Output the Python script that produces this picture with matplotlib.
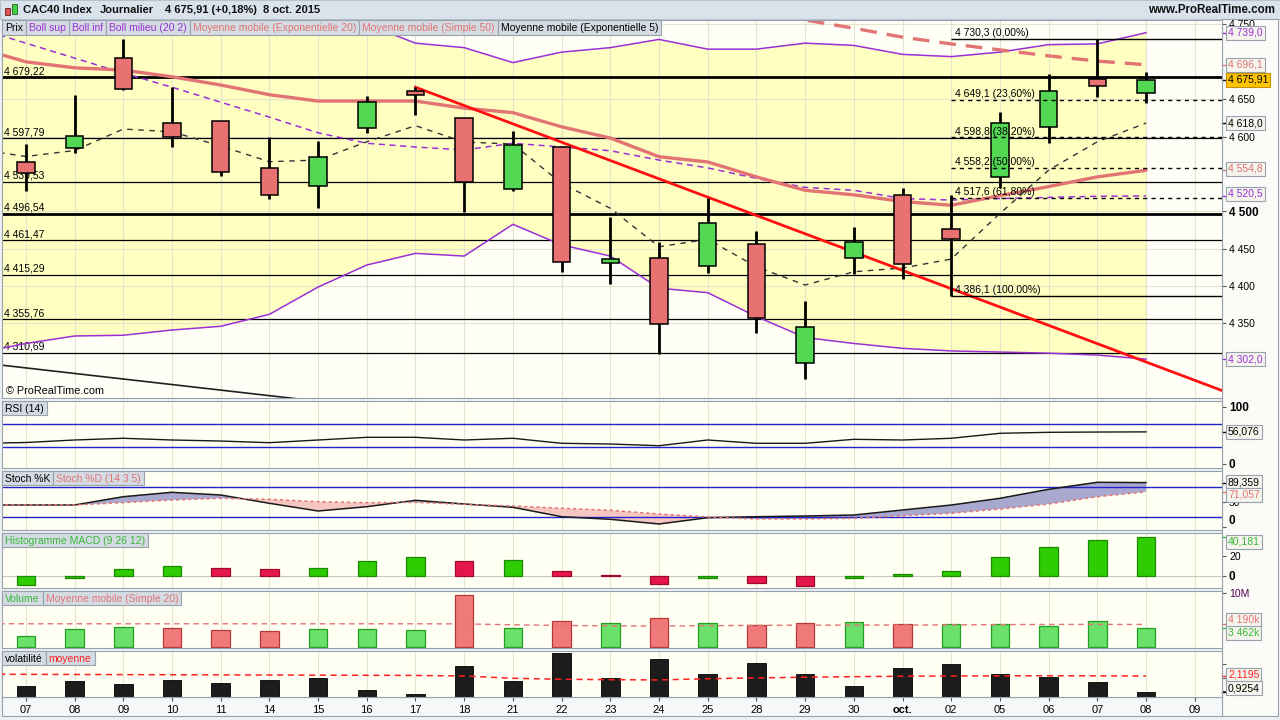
import matplotlib
matplotlib.use("Agg")
import matplotlib.pyplot as plt
import matplotlib as mpl
import matplotlib.transforms as mtransforms
from matplotlib.patches import Rectangle
import numpy as np

mpl.rcParams.update({
    "font.family": ["Liberation Sans", "DejaVu Sans"],
    "font.size": 7.5,
    "axes.linewidth": 0.8,
})

# ---------------- data (daily, 7 Sep -> 8 Oct 2015) ----------------
dates = ["07", "08", "09", "10", "11", "14", "15", "16", "17", "18", "21", "22", "23",
         "24", "25", "28", "29", "30", "oct.", "02", "05", "06", "07", "08", "09"]

opens = [4566.3, 4584.2, 4704.7, 4617.7, 4620.3, 4557.4, 4533.3, 4611.0, 4660.9, 4624.4,
         4529.3, 4585.5, 4430.7, 4437.0, 4426.6, 4456.1, 4296.4, 4437.0, 4521.3, 4476.2,
         4545.4, 4612.3, 4677.4, 4658.2]
highs = [4590.0, 4655.2, 4730.5, 4666.7, 4621.0, 4598.9, 4594.0, 4654.2, 4665.9, 4625.0,
         4607.4, 4586.0, 4492.2, 4458.4, 4517.3, 4473.5, 4379.8, 4478.8, 4530.7, 4521.7,
         4632.8, 4683.3, 4730.3, 4686.0]
lows = [4527.4, 4577.5, 4662.3, 4586.3, 4547.5, 4516.3, 4504.7, 4605.1, 4629.2, 4498.5,
        4527.0, 4418.2, 4402.9, 4308.4, 4416.9, 4337.4, 4275.4, 4415.5, 4409.2, 4386.1,
        4530.7, 4590.9, 4653.3, 4644.4]
closes = [4551.5, 4600.3, 4664.0, 4598.9, 4552.1, 4521.3, 4572.6, 4646.6, 4655.2, 4538.7,
          4588.6, 4431.6, 4435.6, 4348.6, 4483.8, 4357.4, 4344.6, 4458.4, 4429.3, 4462.4,
          4617.7, 4660.9, 4667.2, 4675.91]
prev_close = 4523.0

# overlay series start one day earlier (4 Sep) so they reach the left edge
bb_upper = [5170, 5128, 5077, 5036, 4991, 4946, 4890, 4812, 4750, 4725, 4719, 4699, 4713,
            4719, 4730, 4717, 4717, 4725, 4722, 4710, 4707, 4713, 4723, 4724, 4739.0]
bb_mid = [4745, 4725, 4705, 4685, 4666, 4646, 4626, 4605, 4591, 4586, 4582, 4591, 4586,
          4581, 4568.5, 4558, 4544, 4532, 4528, 4517, 4515, 4517, 4518.5, 4520, 4520.5]
bb_lower = [4310, 4323, 4333, 4334, 4341, 4346, 4362, 4398.5, 4428, 4443.6, 4440, 4482.5,
            4455, 4440, 4397, 4391, 4359, 4331, 4323, 4316.5, 4313, 4311.5, 4310, 4307.5, 4302.0]
ema20 = [4719, 4700, 4692, 4689, 4680, 4669, 4656, 4647.5, 4647.5, 4647.5, 4638, 4632, 4613,
         4598, 4573, 4566, 4546, 4528, 4522, 4513, 4508, 4521, 4533, 4546, 4554.8]
ema5 = [4583, 4573.3, 4581.3, 4610, 4606.4, 4587.3, 4566.3, 4568.5, 4593, 4614.5, 4592.6,
        4590, 4537.3, 4504, 4452.5, 4462.4, 4425.7, 4401.2, 4419, 4424, 4436, 4497, 4555,
        4593, 4618.0]
sma50_start = 13
sma50 = [4788, 4777, 4766, 4756, 4745, 4733, 4724, 4716, 4708, 4701, 4696.1]

levels = [4679.22, 4597.79, 4539.53, 4496.54, 4461.47, 4415.29, 4355.76, 4310.69]
thick_levels = [4679.22, 4496.54]

fib_start = 19
fib_levels = [4730.3, 4649.1, 4598.8, 4558.2, 4517.6, 4386.1]
fib_pcts = ["0,00%", "23,60%", "38,20%", "50,00%", "61,80%", "100,00%"]

red_trend_x = [8, 24.6]
red_trend_y = [4666, 4259]
black_trend_x = [-0.5, 6.5]
black_trend_y = [4294, 4242]

rsi = [36, 37.5, 41.9, 44.9, 41.9, 40.1, 37.2, 41.9, 46.6, 46.6, 41.9, 44.9, 36.1, 34.9,
       31.9, 41.9, 36.1, 36.1, 43.1, 41.9, 44.9, 53.6, 55.3, 55.8, 56.076]
stoch_k = [44.6, 44.6, 44.6, 61.2, 70, 64.6, 48, 32.6, 41.2, 54, 46.6, 40, 21.2, 16, 6.6,
           19.2, 21.2, 22.6, 24.6, 34.6, 44.6, 58, 76, 90, 89.359]
stoch_d = [44.6, 44.6, 44.6, 49.4, 54.6, 58, 56, 51.2, 49.2, 50, 46, 42.6, 38, 34, 26.6,
           20.6, 16.6, 16.6, 18, 23.2, 28, 36.6, 46.6, 61.2, 71.057]

macd_prev = -12.0
macd_hist = [-9.4, -2.4, 7.3, 9.4, 8.3, 6.6, 8.3, 15.6, 19.7, 15.6, 15.8, 5.2, 0.4, -8.7,
             -3.1, -7.3, -10.8, -3.1, 1.4, 5.2, 19.8, 30.2, 36.5, 40.181]

volume_m = [2.04, 3.28, 3.65, 3.46, 3.09, 2.9, 3.28, 3.28, 3.09, 9.57, 3.46, 4.76, 4.39,
            5.31, 4.39, 4.07, 4.39, 4.57, 4.2, 4.2, 4.2, 3.83, 4.76, 3.462]
volume_sma20 = [4.32, 4.31, 4.31, 4.31, 4.31, 4.31, 4.31, 4.31, 4.31, 4.31, 4.29, 4.12, 4.0,
                3.93, 3.89, 3.95, 4.02, 4.05, 4.07, 4.07, 4.1, 4.15, 4.19, 4.19, 4.19]

volat = [1.385, 1.75, 1.53, 1.82, 1.6, 1.82, 1.97, 1.09, 0.8, 2.85, 1.75, 3.8, 1.97, 3.36,
         2.26, 3.07, 2.26, 1.385, 2.7, 3.0, 2.26, 2.04, 1.68, 0.9254]
volat_avg = [2.25, 2.24, 2.23, 2.22, 2.21, 2.2, 2.19, 2.18, 2.17, 2.16, 2.12, 1.95, 1.88,
             1.85, 1.83, 1.92, 1.98, 2.03, 2.07, 2.1, 2.12, 2.13, 2.14, 2.13, 2.1195]

# ---------------- style ----------------
W, H = 1280, 720
X0, X1 = -0.49, 24.56
PANEL_BG = "#FFFFF3"
BAND = "#FFFFC2"
GRID = "#E4E4CC"
SPINE = "#98A2AC"
BOX_EC = "#98A2AC"
PURPLE = "#9A2FD6"
SALMON = "#E27474"
GREEN_TXT = "#38B838"
BLUE = "#2222CC"

fig = plt.figure(figsize=(12.8, 7.2), dpi=100, facecolor="#EEF1F4")
renderer = fig.canvas.get_renderer()


def fr(v, d):
    return f"{v:,.{d}f}".replace(",", " ").replace(".", ",")


def panel(top, bottom, bg=PANEL_BG):
    ax = fig.add_axes([2 / W, 1 - bottom / H, 1220 / W, (bottom - top) / H])
    ax.set_facecolor(bg)
    for s in ax.spines.values():
        s.set_color(SPINE)
    ax.set_xlim(X0, X1)
    ax.set_xticks(np.arange(len(dates)))
    ax.tick_params(axis="x", length=0, labelbottom=False)
    ax.yaxis.tick_right()
    ax.tick_params(axis="y", length=3, width=0.8, color="#555555", pad=2, labelsize=7.5)
    ax.grid(axis="x", color=GRID, lw=0.8)
    ax.set_axisbelow(True)
    return ax


def side_label(ax, y, text, color, fc="#F4F4EC", ec=BOX_EC, dy=0):
    # dy: shift of the box in pixels (downwards positive), tick mark stays on the value
    tr = mtransforms.blended_transform_factory(ax.transAxes, ax.transData)
    ax.plot([1.0, 1.0 + 4 / 1220], [y, y], transform=tr, color=color, lw=1, clip_on=False)
    ax.annotate(text, xy=(1.0, y), xycoords=tr, xytext=(6 * 0.72, -dy * 0.72),
                textcoords="offset points", color=color, fontsize=7.5,
                va="center", ha="left", annotation_clip=False, zorder=6,
                bbox=dict(boxstyle="square,pad=0.18", fc=fc, ec=ec, lw=0.8))


def right_ticks(ax, ticks, labels, bold=()):
    ax.set_yticks(ticks, labels)
    for lbl in ax.get_yticklabels():
        if lbl.get_text() in bold:
            lbl.set_fontweight("bold")
            lbl.set_fontsize(8.5)


def legend_row(top, items, h=14):
    x = 2
    for label, color in items:
        t = fig.text((x + 3) / W, 1 - (top + h / 2 + 0.5) / H, label, color=color,
                     va="center", ha="left", fontsize=7.5, zorder=6)
        w = t.get_window_extent(renderer).width + 6
        fig.add_artist(Rectangle((x / W, 1 - (top + h) / H), w / W, h / H,
                                 transform=fig.transFigure, fc="#D4DBE3", ec=BOX_EC,
                                 lw=0.8, zorder=5))
        x += w


xl = np.arange(-1, 24)
xc = np.arange(24)

# background strips (header, right axis, date axis)
fig.add_artist(Rectangle((0, 1 - 19 / H), 1, 19 / H, transform=fig.transFigure,
                         fc="#DAE3EC", ec="#B8C2CC", lw=0.8, zorder=-2))
fig.add_artist(Rectangle((1222 / W, 1 - 716 / H), 56 / W, 697 / H, transform=fig.transFigure,
                         fc="#FBFBF8", ec=SPINE, lw=0.8, zorder=-1))
fig.add_artist(Rectangle((2 / W, 1 - 716 / H), 1220 / W, 19 / H, transform=fig.transFigure,
                         fc="#F6F7F8", ec=SPINE, lw=0.8, zorder=-1))

# header
fig.add_artist(Rectangle((5 / W, 1 - 15 / H), 5 / W, 7 / H, transform=fig.transFigure,
                         fc="#E05050", ec="#602020", lw=0.6, zorder=6))
fig.add_artist(Rectangle((12 / W, 1 - 14 / H), 5 / W, 10 / H, transform=fig.transFigure,
                         fc="#40D040", ec="#206020", lw=0.6, zorder=6))
fig.text(23 / W, 1 - 10 / H, "CAC40 Index", fontsize=8, fontweight="bold", va="center", color="#101010")
fig.text(100 / W, 1 - 10 / H, "Journalier", fontsize=8, fontweight="bold", va="center", color="#101010")
fig.text(165 / W, 1 - 10 / H, "4 675,91 (+0,18%)", fontsize=8, fontweight="bold", va="center", color="#101010")
fig.text(263 / W, 1 - 10 / H, "8 oct. 2015", fontsize=8, fontweight="bold", va="center", color="#101010")
fig.text(1275 / W, 1 - 10 / H, "www.ProRealTime.com", fontsize=8.3, fontweight="bold",
         va="center", ha="right", color="#101010")

# ---------------- main price panel ----------------
ax = panel(20, 398, bg="#FFFFF8")
ax.set_ylim(4250, 4756)
ax.grid(axis="y", color=GRID, lw=0.8)
ax.fill_between(xl, bb_lower, bb_upper, color=BAND, lw=0, zorder=0.3)

for lvl in levels:
    ax.axhline(lvl, color="black", lw=2.0 if lvl in thick_levels else 0.9, zorder=1)
    ax.text(X0 + 0.04, lvl + 1.2, fr(lvl, 2), fontsize=7.5, va="bottom", ha="left", zorder=1.5)

ax.plot(xl, bb_upper, color=PURPLE, lw=1.1, zorder=2)
ax.plot(xl, bb_lower, color=PURPLE, lw=1.1, zorder=2)
ax.plot(xl, bb_mid, color=PURPLE, lw=1.1, ls=(0, (4, 3)), zorder=2)
ax.plot(xl, ema20, color=SALMON, lw=2.4, zorder=2.1, solid_capstyle="round")
ax.plot(np.arange(sma50_start, 24), sma50, color=SALMON, lw=2.4, ls=(0, (5, 3)), zorder=2.1)
ax.plot(xl, ema5, color="#333333", lw=1.0, ls=(0, (4, 4)), zorder=2.2)
ax.plot(red_trend_x, red_trend_y, color="#FF1010", lw=2.0, zorder=2.5)
ax.plot(black_trend_x, black_trend_y, color="#202020", lw=1.2, zorder=2.5)

o = np.array(opens)
c = np.array(closes)
up = c >= o
ax.vlines(xc, lows, highs, color="black", lw=2.0, zorder=3)
ax.bar(xc, np.maximum(np.abs(c - o), 1.0), bottom=np.minimum(o, c), width=0.36,
       color=np.where(up, "#52D852", "#E87272"), edgecolor="black", lw=1.1, zorder=3.2)

for lvl, pct in zip(fib_levels, fib_pcts):
    solid = pct in ("0,00%", "100,00%")
    ax.hlines(lvl, fib_start, X1, color="black", lw=1.0,
              ls="-" if solid else (0, (3, 3)), zorder=3.5)
    ax.text(fib_start + 0.08, lvl + 1.2, f"{fr(lvl, 1)} ({pct})", fontsize=7.5,
            va="bottom", ha="left", zorder=4)

ax.text(0.003, 0.019, "\u00a9 ProRealTime.com", transform=ax.transAxes, fontsize=7.8,
        va="center", ha="left", zorder=4)

price_ticks = [4350, 4400, 4450, 4500, 4600, 4650, 4750]
right_ticks(ax, price_ticks, [fr(t, 0) for t in price_ticks], bold=("4 500",))
side_label(ax, bb_upper[-1], fr(bb_upper[-1], 1), PURPLE)
side_label(ax, sma50[-1], fr(sma50[-1], 1), SALMON)
side_label(ax, closes[-1], fr(closes[-1], 2), "black", fc="#FFC400", ec="#C89000")
side_label(ax, ema5[-1], fr(ema5[-1], 1), "black")
side_label(ax, ema20[-1], fr(ema20[-1], 1), SALMON, dy=-1.5)
side_label(ax, bb_mid[-1], fr(bb_mid[-1], 1), PURPLE, dy=-2)
side_label(ax, bb_lower[-1], fr(bb_lower[-1], 1), PURPLE)

legend_row(20, [("Prix", "black"), ("Boll sup", PURPLE), ("Boll inf", PURPLE),
                ("Boll milieu (20 2)", PURPLE),
                ("Moyenne mobile (Exponentielle 20)", SALMON),
                ("Moyenne mobile (Simple 50)", SALMON),
                ("Moyenne mobile (Exponentielle 5)", "black")], h=15)

# ---------------- RSI ----------------
ax_r = panel(401, 468)
ax_r.set_ylim(-7, 110)
ax_r.axhline(70, color=BLUE, lw=1, zorder=1)
ax_r.axhline(30, color=BLUE, lw=1, zorder=1)
ax_r.plot(xl, rsi, color="#1A1A1A", lw=1.0, zorder=2)
right_ticks(ax_r, [0, 100], ["0", "100"], bold=("0", "100"))
side_label(ax_r, rsi[-1], fr(rsi[-1], 3), "black")
legend_row(401, [("RSI (14)", "black")])

# ---------------- Stochastic ----------------
ax_s = panel(471, 530)
ax_s.set_ylim(-5.4, 112.6)
k = np.array(stoch_k)
d = np.array(stoch_d)
ax_s.fill_between(xl, k, d, where=k >= d, interpolate=True, color="#A9A9CF", lw=0, zorder=1)
ax_s.fill_between(xl, k, d, where=k < d, interpolate=True, color="#F5C6C2", lw=0, zorder=1)
ax_s.axhline(80, color=BLUE, lw=1, zorder=1.5)
ax_s.axhline(20, color=BLUE, lw=1, zorder=1.5)
ax_s.plot(xl, k, color="#1A1A1A", lw=1.1, zorder=2)
ax_s.plot(xl, d, color=SALMON, lw=1.1, ls=(0, (2, 2)), zorder=2)
right_ticks(ax_s, [0, 50], ["0", "50"], bold=("0",))
for lbl in ax_s.get_yticklabels():
    if lbl.get_text() == "0":
        lbl.set_verticalalignment("bottom")
side_label(ax_s, stoch_k[-1], fr(stoch_k[-1], 3), "black", dy=-0.5)
side_label(ax_s, stoch_d[-1], fr(stoch_d[-1], 3), SALMON, dy=3)
legend_row(471, [("Stoch %K", "black"), ("Stoch %D (14 3 5)", SALMON)])

# ---------------- MACD histogram ----------------
ax_m = panel(533, 588)
ax_m.set_ylim(-13, 44.3)
ax_m.axhline(0, color="#C8C8C0", lw=0.8, zorder=0.6)
mh = np.array(macd_hist)
rising = np.diff(np.concatenate([[macd_prev], mh])) > 0
ax_m.bar(xc, mh, width=0.38, color=np.where(rising, "#2ECC00", "#E5174A"),
         edgecolor=np.where(rising, "#1A8A00", "#A00A30"), lw=0.9, zorder=2)
right_ticks(ax_m, [0, 20], ["0", "20"], bold=("0",))
side_label(ax_m, macd_hist[-1], fr(macd_hist[-1], 3), GREEN_TXT, dy=5)
legend_row(533, [("Histogramme MACD (9 26 12)", GREEN_TXT)])

# ---------------- Volume ----------------
ax_v = panel(591, 648)
ax_v.set_ylim(-0.19, 10.4)
vol_up = np.diff(np.concatenate([[prev_close], c])) > 0
ax_v.bar(xc, volume_m, width=0.38, color=np.where(vol_up, "#6BE06B", "#F07A7A"),
         edgecolor=np.where(vol_up, "#22A022", "#B83838"), lw=0.9, zorder=2)
ax_v.plot(xl, volume_sma20, color=SALMON, lw=1.0, ls=(0, (4, 3)), zorder=3)
right_ticks(ax_v, [10], ["10M"])
ax_v.get_yticklabels()[0].set_color("#500050")
side_label(ax_v, volume_sma20[-1], "4 190k", SALMON, dy=-4.5)
side_label(ax_v, volume_m[-1], "3 462k", GREEN_TXT, dy=5)
legend_row(591, [("Volume", GREEN_TXT), ("Moyenne mobile (Simple 20)", SALMON)])

# ---------------- Volatility ----------------
ax_t = panel(651, 697)
ax_t.set_ylim(0.58, 3.95)
ax_t.bar(xc, volat, width=0.38, color="#1C1C1C", edgecolor="black", lw=0.6, zorder=2)
ax_t.plot(xl, volat_avg, color="#FF2020", lw=1.1, ls=(0, (4, 3)), zorder=3)
right_ticks(ax_t, [1, 2, 3], ["", "", ""])
side_label(ax_t, volat_avg[-1], fr(volat_avg[-1], 4), "#FF2020", dy=-1)
side_label(ax_t, volat[-1], fr(volat[-1], 4), "black", dy=-4)
legend_row(651, [("volatilit\u00e9", "black"), ("moyenne", "#FF2020")])

ax_t.tick_params(axis="x", labelbottom=True, length=3, color="#555555", labelsize=8, pad=3)
ax_t.set_xticklabels(dates)
for lbl in ax_t.get_xticklabels():
    if lbl.get_text() == "oct.":
        lbl.set_fontweight("bold")

fig.savefig("out.png", dpi=100, facecolor=fig.get_facecolor())
